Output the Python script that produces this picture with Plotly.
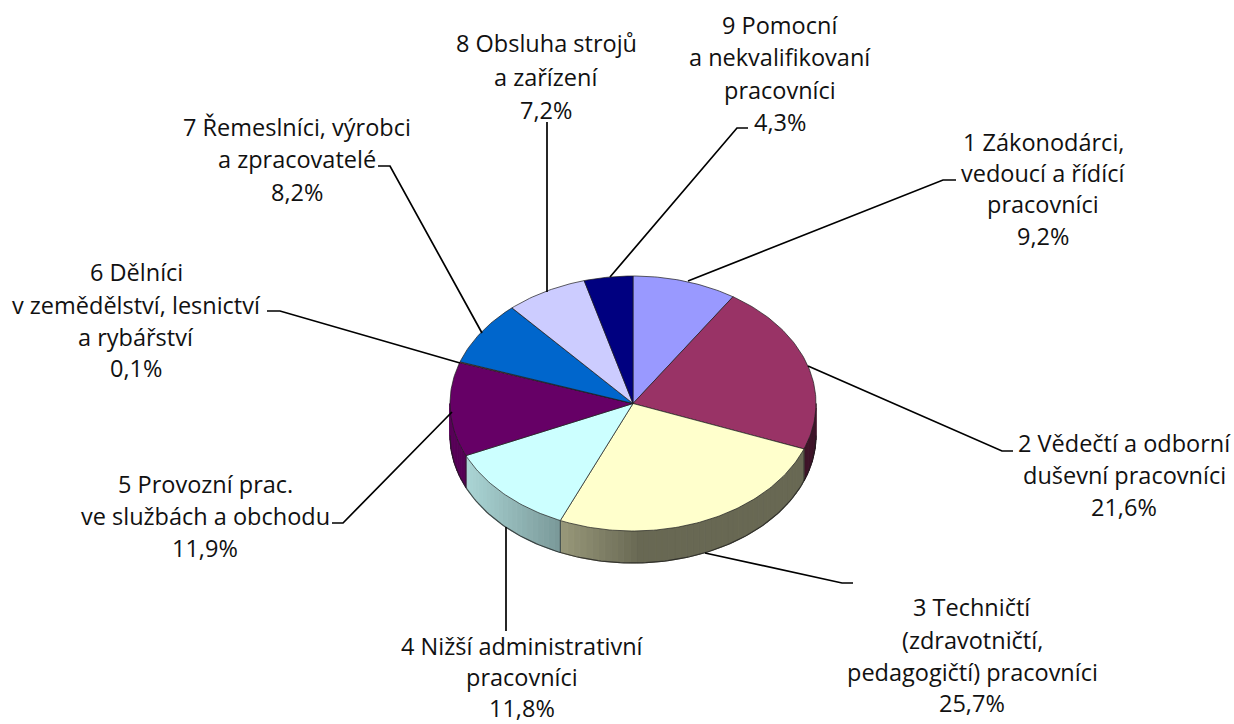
import numpy as np
import plotly.graph_objects as go

# ---- data ----
categories = [
    ["1 Zákonodárci,", "vedoucí a řídící", "pracovníci"],
    ["2 Vědečtí a odborní", "duševní pracovníci"],
    ["3 Techničtí", "(zdravotničtí,", "pedagogičtí) pracovníci"],
    ["4 Nižší administrativní", "pracovníci"],
    ["5 Provozní prac.", "ve službách a obchodu"],
    ["6 Dělníci", "v zemědělství, lesnictví", "a rybářství"],
    ["7 Řemeslníci, výrobci", "a zpracovatelé"],
    ["8 Obsluha strojů", "a zařízení"],
    ["9 Pomocní", "a nekvalifikovaní", "pracovníci"],
]
values = [9.2, 21.6, 25.7, 11.8, 11.9, 0.1, 8.2, 7.2, 4.3]
value_labels = ["9,2%", "21,6%", "25,7%", "11,8%", "11,9%", "0,1%", "8,2%", "7,2%", "4,3%"]
colors = [(153, 153, 255), (153, 51, 102), (255, 255, 204), (204, 255, 255), (102, 0, 102),
          (255, 128, 128), (0, 102, 204), (204, 204, 255), (0, 0, 128)]

# ---- layout of the picture (pixels) ----
W, H = 1234, 724
CX, CY, RX, RY, DEPTH = 633, 403.5, 183, 127.5, 32
FONT = dict(family="Open Sans", size=23.5, color="#111111")
LINE_COLOR = "#000000"
label_x = [1043, 1124, 972, 522, 205, 136, 297, 546, 780]
label_y = [
    [142, 173, 204, 236], [443, 475, 507], [607, 640, 672, 703], [646, 677, 708],
    [484, 516, 548], [272, 305, 337, 368], [127, 159, 192], [43, 77, 110], [25, 57, 90, 122],
]
leaders = [
    [(688, 281), (943, 180), (956, 180)],
    [(808, 366), (1002, 451), (1013, 451)],
    [(705, 553), (842, 583), (853, 583)],
    [(506, 527), (506, 631)],
    [(452, 412), (343, 523), (332, 523)],
    [(460, 363), (280, 311), (267, 311)],
    [(482, 333), (390, 166), (378, 166)],
    [(547, 292), (547, 122)],
    [(610, 277), (737, 128), (748, 128)],
]


def pt(deg, dy=0.0):
    a = np.radians(deg)
    return CX + RX * np.sin(a), CY - RY * np.cos(a) + dy


def shade(x):
    return float(np.interp(x, [450, 560, 640], [0.88, 0.60, 0.41]))


fig = go.Figure()
cum = np.concatenate([[0], np.cumsum(values)]) / sum(values) * 360

# side wall, gradient strips
for i, col in enumerate(colors):
    lo, hi = max(cum[i], 90), min(cum[i + 1], 270)
    if hi <= lo:
        continue
    edges = np.arange(lo, hi, 2.0).tolist() + [hi]
    for a, b in zip(edges[:-1], edges[1:]):
        xa, ya = pt(a)
        xb, yb = pt(b)
        f = shade((xa + xb) / 2)
        c = "rgb(%d,%d,%d)" % tuple(int(v * f) for v in col)
        fig.add_trace(go.Scatter(x=[xa, xb, xb, xa, xa], y=[ya, yb, yb + DEPTH, ya + DEPTH, ya],
                                 mode="lines", fill="toself", fillcolor=c,
                                 line=dict(color=c, width=1), hoverinfo="skip"))

# side wall outline and dividers
arc = np.linspace(90, 270, 181)
bx, by = pt(arc, DEPTH)
fig.add_trace(go.Scatter(x=bx, y=by, mode="lines", line=dict(color="rgba(30,30,30,0.75)", width=1.2),
                         hoverinfo="skip"))
for c in cum[1:-1]:
    if 90 < c < 270:
        x0, y0 = pt(c)
        fig.add_trace(go.Scatter(x=[x0, x0], y=[y0, y0 + DEPTH], mode="lines",
                                 line=dict(color="rgba(30,30,30,0.7)", width=1), hoverinfo="skip"))

# top face
for i, col in enumerate(colors):
    arc = np.linspace(cum[i], cum[i + 1], max(3, int(cum[i + 1] - cum[i]) + 2))
    ax, ay = pt(arc)
    fig.add_trace(go.Scatter(x=[CX, *ax, CX], y=[CY, *ay, CY], mode="lines", fill="toself",
                             fillcolor="rgb(%d,%d,%d)" % col,
                             line=dict(color="rgba(30,30,30,0.7)", width=1), hoverinfo="skip"))

# leader lines
for pts in leaders:
    fig.add_trace(go.Scatter(x=[p[0] for p in pts], y=[p[1] for p in pts], mode="lines",
                             line=dict(color=LINE_COLOR, width=1.7), hoverinfo="skip"))

# labels, one real text per line to hold the line pitch
for lines, val, x, ys in zip(categories, value_labels, label_x, label_y):
    for text, y in zip(lines + [val], ys):
        fig.add_annotation(x=x, y=y, text=text, showarrow=False, xanchor="center", yanchor="middle",
                           font=FONT, borderpad=0, borderwidth=0)

fig.update_layout(
    width=W, height=H, margin=dict(l=0, r=0, t=0, b=0), showlegend=False,
    paper_bgcolor="white", plot_bgcolor="white",
    xaxis=dict(range=[0, W], visible=False, fixedrange=True),
    yaxis=dict(range=[H, 0], visible=False, fixedrange=True),
)
fig.write_html("out.html", config={"displayModeBar": False},
               post_script="document.body.style.margin='0';")
